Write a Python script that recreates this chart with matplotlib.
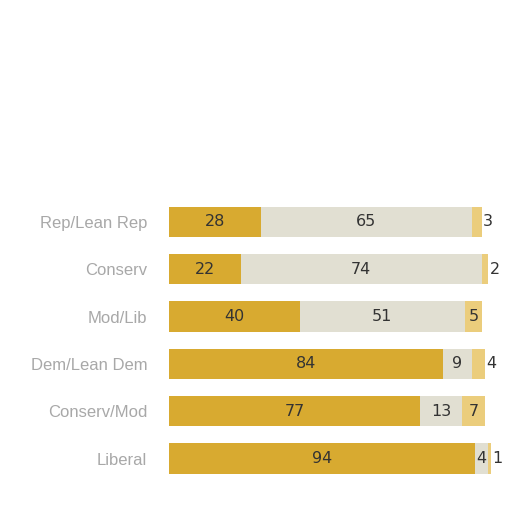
import matplotlib
matplotlib.use("Agg")
import matplotlib.pyplot as plt
import numpy as np

categories = ["Rep/Lean Rep", "Conserv", "Mod/Lib", "Dem/Lean Dem", "Conserv/Mod", "Liberal"]
series_a = [28, 22, 40, 84, 77, 94]
series_b = [65, 74, 51, 9, 13, 4]
series_c = [3, 2, 5, 4, 7, 1]

col_a = "#D8AA30"
col_b = "#E1DFD2"
col_c = "#EBCD7C"

plt.rcParams['font.family'] = ['DejaVu Sans']
fig = plt.figure(figsize=(5.12, 5.12), dpi=100)
ax = fig.add_axes([0.331, 0.058, 0.635, 0.555])

y = np.arange(len(categories))
h = 0.64
a = np.array(series_a); b = np.array(series_b); c = np.array(series_c)
ax.barh(y, a, height=h, color=col_a)
ax.barh(y, b, left=a, height=h, color=col_b)
ax.barh(y, c, left=a + b, height=h, color=col_c)

fs = 11.5
tc = "#333333"
for i in range(len(categories)):
    ax.text(a[i] / 2, y[i], str(a[i]), ha="center", va="center", fontsize=fs, color=tc)
    ax.text(a[i] + b[i] / 2, y[i], str(b[i]), ha="center", va="center", fontsize=fs, color=tc)
    end = a[i] + b[i] + c[i]
    if c[i] >= 5:
        ax.text(a[i] + b[i] + c[i] / 2, y[i], str(c[i]), ha="center", va="center", fontsize=fs, color=tc)
    else:
        ax.text(end + 0.4, y[i], str(c[i]), ha="left", va="center", fontsize=fs, color=tc)

ax.set_xlim(0, 100)
ax.set_ylim(len(categories) - 0.5, -0.5)
ax.set_yticks(y)
ax.set_yticklabels(categories, fontsize=12, color="#a8a8a8", family="Liberation Sans")
ax.tick_params(axis="y", length=0, pad=16)
ax.set_xticks([])
for s in ax.spines.values():
    s.set_visible(False)

fig.savefig("out.png", dpi=100, facecolor="white")
